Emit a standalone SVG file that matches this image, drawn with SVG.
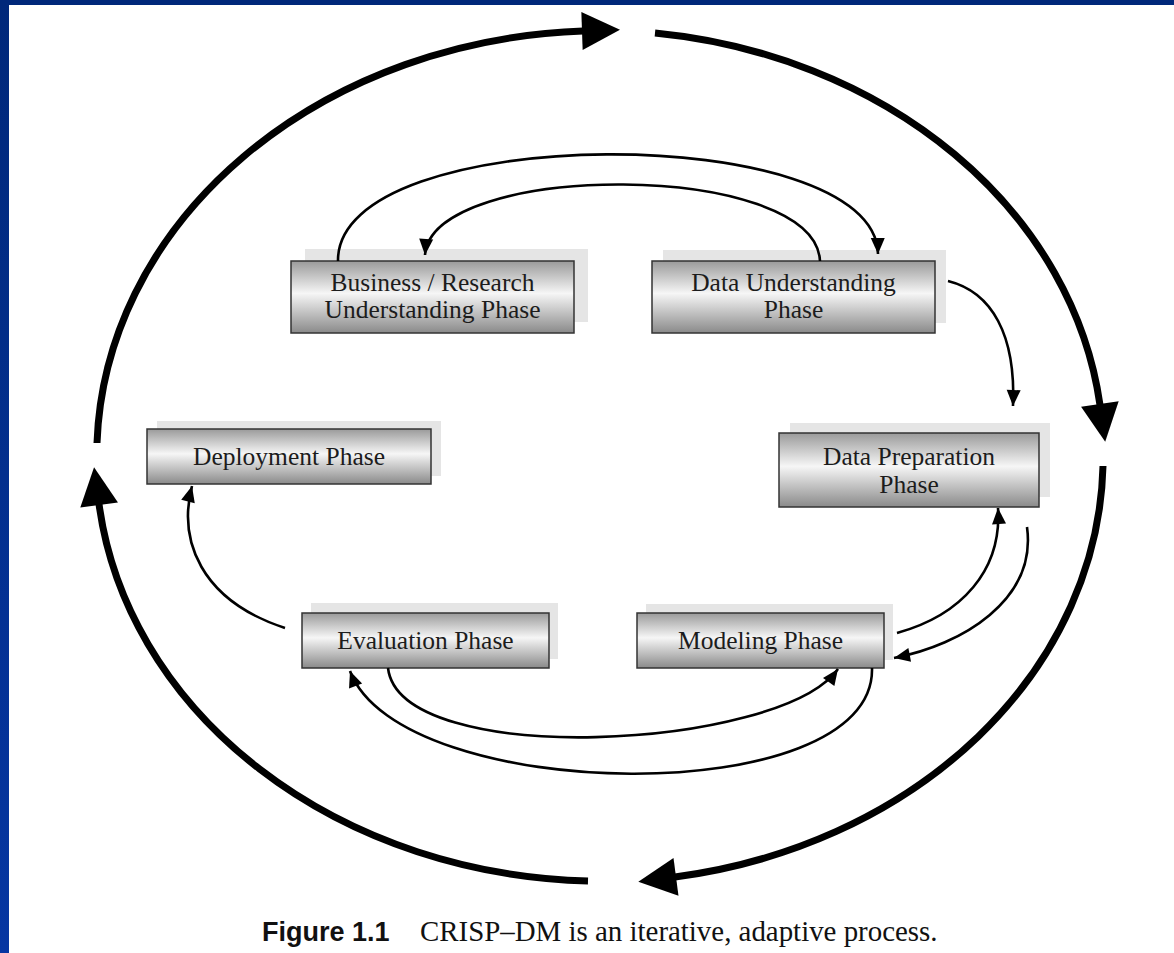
<svg xmlns="http://www.w3.org/2000/svg" width="1174" height="953" viewBox="0 0 1174 953">
<defs>
<linearGradient id="boxGrad" x1="0" y1="0" x2="0" y2="1">
<stop offset="0" stop-color="#9a9a9a"/>
<stop offset="0.45" stop-color="#f6f6f6"/>
<stop offset="1" stop-color="#8a8a8a"/>
</linearGradient>
<linearGradient id="frameGrad" x1="0" y1="0" x2="0" y2="1">
<stop offset="0" stop-color="#00287a"/>
<stop offset="1" stop-color="#0636a2"/>
</linearGradient>
<marker id="bigArrow" markerUnits="userSpaceOnUse" markerWidth="50" markerHeight="60" viewBox="-5 -30 50 60" refX="0" refY="0" orient="auto" overflow="visible">
<path d="M-1,-19 L37,0 L-1,19 z" fill="#000"/>
</marker>
<marker id="smallArrow" markerUnits="userSpaceOnUse" markerWidth="25" markerHeight="20" viewBox="-20 -10 25 20" refX="0" refY="0" orient="auto" overflow="visible">
<path d="M0,0 L-16,-7 L-16,7 z" fill="#000"/>
</marker>
<style>
.shadow{fill:#e5e5e5;stroke:none}
.box{fill:url(#boxGrad);stroke:#333;stroke-width:1.5}
.lbl{font-family:"Liberation Serif","Times New Roman",serif;font-size:25.5px;fill:#1c1c1c;text-anchor:middle}
.big{fill:none;stroke:#000;stroke-width:7;marker-end:url(#bigArrow)}
.thin{fill:none;stroke:#000;stroke-width:2.6;marker-end:url(#smallArrow)}
</style>
</defs>
<rect x="0" y="0" width="1174" height="953" fill="#fff"/>
<rect x="0" y="0" width="1174" height="5" fill="#00287a"/>
<rect x="0" y="0" width="9" height="953" fill="url(#frameGrad)"/>

<g id="cycle">
<path class="big" d="M97,443 A507,425 0 0 1 583,31"/>
<path class="big" d="M655,33 A507,425 0 0 1 1100,405"/>
<path class="big" d="M1103,466 A507,425 0 0 1 675,877"/>
<path class="big" d="M588,881 A507,425 0 0 1 99,504"/>
</g>

<g id="node-business">
<rect class="shadow" x="305" y="249" width="283" height="73"/>
<rect class="box" x="291" y="261" width="283" height="72"/>
<text class="lbl" x="432.5" y="291">Business / Research</text>
<text class="lbl" x="432.5" y="318">Understanding Phase</text>
</g>
<g id="node-data-understanding">
<rect class="shadow" x="663" y="250" width="283" height="73"/>
<rect class="box" x="652" y="261" width="283" height="72"/>
<text class="lbl" x="793.5" y="291">Data Understanding</text>
<text class="lbl" x="793.5" y="318">Phase</text>
</g>
<g id="node-data-preparation">
<rect class="shadow" x="790" y="423" width="260" height="74"/>
<rect class="box" x="779" y="433" width="260" height="74"/>
<text class="lbl" x="909" y="465">Data Preparation</text>
<text class="lbl" x="909" y="493">Phase</text>
</g>
<g id="node-deployment">
<rect class="shadow" x="157" y="421" width="284" height="55"/>
<rect class="box" x="147" y="429" width="284" height="55"/>
<text class="lbl" x="289" y="465">Deployment Phase</text>
</g>
<g id="node-evaluation">
<rect class="shadow" x="311" y="603" width="247" height="56"/>
<rect class="box" x="302" y="613" width="247" height="55"/>
<text class="lbl" x="425.5" y="649">Evaluation Phase</text>
</g>
<g id="node-modeling">
<rect class="shadow" x="646" y="604" width="247" height="56"/>
<rect class="box" x="637" y="613" width="247" height="55"/>
<text class="lbl" x="760.5" y="649">Modeling Phase</text>
</g>

<g id="connectors">
<path class="thin" d="M338,261 C336,120 876,120 878,254"/>
<path class="thin" d="M820,261 C815,160 432,160 425,255"/>
<path class="thin" d="M948,281 C992,292 1016,335 1013,406"/>
<path class="thin" d="M897,633 C962,615 1002,570 998,508"/>
<path class="thin" d="M1027,527 C1037,600 962,645 894,658"/>
<path class="thin" d="M872,668 C876,812 400,805 350,671"/>
<path class="thin" d="M388,668 C400,770 780,750 838,669"/>
<path class="thin" d="M285,628 C200,600 178,540 192,486"/>
</g>

<g id="caption">
<text x="262" y="941" style="font-family:'Liberation Sans',Arial,sans-serif;font-weight:bold;font-size:27px;fill:#111">Figure 1.1</text>
<text x="420" y="941" style="font-family:'Liberation Serif','Times New Roman',serif;font-size:28.9px;fill:#111">CRISP–DM is an iterative, adaptive process.</text>
</g>
</svg>
